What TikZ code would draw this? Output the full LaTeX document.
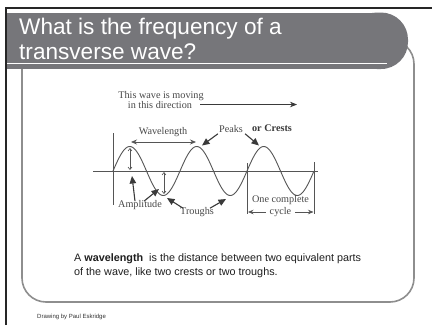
\documentclass[tikz,border=0pt]{standalone}
\usepackage{fontspec}
\setmainfont{Liberation Sans}
\newfontfamily\diagfont{Liberation Serif}
\usetikzlibrary{arrows.meta}
\definecolor{banner}{HTML}{76767A}
\definecolor{boxline}{HTML}{8E8E8E}
\definecolor{wave}{HTML}{555555}
\definecolor{lbl}{HTML}{484848}
\definecolor{ptr}{HTML}{3A3A3A}
\begin{document}
\begin{tikzpicture}[x=1pt,y=-1pt,
  lbltext/.style={inner sep=0pt, font=\diagfont\fontsize{10.2}{12}\selectfont, text=lbl},
  pointer/.style={draw=ptr, line width=1.1pt, -{Triangle[length=7.5pt,width=6.5pt]}},
  dimarrow/.style={draw=wave, line width=0.6pt, {Straight Barb[length=2.5pt,width=4pt]}-{Straight Barb[length=2.5pt,width=4pt]}},
  spanarrow/.style={draw=wave, line width=0.7pt, -{Stealth[length=5.5pt,width=4.5pt]}},
  guide/.style={draw=wave, line width=0.75pt},
  bodytext/.style={inner sep=0pt, anchor=base west, text=black!88, font=\fontsize{10.8}{13}\selectfont}]
\useasboundingbox (0,0) rectangle (432,325);
\fill[white] (0,0) rectangle (432,325);

% outline box
\draw[boxline, line width=1.6pt, rounded corners=24] (22,66) -- (22,302) -- (414,302) -- (414,40) -- (385,40);

% banner
\fill[banner] (7,12.5) rectangle (385,69);
\fill[banner, rounded corners=27] (350,12.5) rectangle (408,69);
\draw[white, line width=1.5pt] (7,63.5) -- (387,63.5);

% frame lines
\draw[black!85, line width=2pt] (6,325) -- (6,7.5) -- (432,7.5);

% title
\node[anchor=base west, inner sep=0pt, text=white, font=\fontsize{22.6}{25}\selectfont] (t1) at (19,34) {What is the frequency of a};
\node[anchor=base west, inner sep=0pt, text=white, font=\fontsize{22.6}{25}\selectfont] (t2) at (19,59) {transverse wave?};

% direction
\node[lbltext, anchor=base] (mv1) at (161,98) {This wave is moving};
\node[lbltext, anchor=base] (mv2) at (160,108) {in this direction};
\coordinate (dirend) at (297,105);
\draw[draw=ptr, line width=0.7pt, -{Stealth[length=7pt,width=5.5pt]}] ([xshift=8pt]mv2.east) -- (mv2.east -| dirend);

% wavelength
\node[lbltext] (wl) at (163,132) {Wavelength};
\coordinate (wlA) at (131,142);
\coordinate (wlB) at (196,142);
\draw[draw=wave, line width=0.8pt, {Stealth[length=6pt,width=5pt]}-{Stealth[length=6pt,width=5pt]}] (wlA) -- (wlB);

% peaks
\node[lbltext] (pk) at (231,129) {Peaks};
\node[lbltext, text=ptr, font=\diagfont\bfseries\fontsize{10.2}{12}\selectfont] (cr) at (272,128) {or Crests};
\coordinate (crest2) at (202,145.5);
\coordinate (crest3) at (259,145.5);
\draw[pointer] ([xshift=-1pt,yshift=-1pt]pk.south west) -- (crest2);
\draw[pointer] ([xshift=2pt,yshift=-1pt]pk.south east) -- (crest3);

% axis, guides, wave
\draw[guide] (93,171) -- (318,171);
\draw[guide] (113,133) -- (113,205);
\draw[guide] (247,163) -- (247,214);
\draw[guide] (314.5,162) -- (314.5,214);
\draw[draw=wave, line width=0.9pt] plot[domain=0:201, samples=160, smooth] ({113+\x}, {171-24.5*sin(5.373134*\x)});

% amplitude
\coordinate (a1t) at (130,148);
\coordinate (a1b) at (130,170);
\coordinate (a2t) at (164,172);
\coordinate (a2b) at (164,194);
\draw[dimarrow] (a1t) -- (a1b);
\draw[dimarrow] (a2t) -- (a2b);
\node[lbltext] (amp) at (140,205) {Amplitude};
\coordinate (ampP1) at (132,176);
\coordinate (ampP2) at (159,189);
\draw[pointer] ([xshift=-5pt,yshift=-1pt]amp.north) -- (ampP1);
\draw[pointer] ([xshift=4pt,yshift=-1pt]amp.north) -- (ampP2);

% troughs
\node[lbltext] (tr) at (197,212) {Troughs};
\coordinate (tr1) at (167,198);
\coordinate (tr2) at (226,199);
\draw[pointer] ([xshift=3pt,yshift=-1pt]tr.north west) -- (tr1);
\draw[pointer] ([xshift=-4pt,yshift=-1pt]tr.north east) -- (tr2);

% one complete cycle
\node[lbltext] (oc) at (280.5,200) {One complete};
\node[lbltext] (cy) at (280.5,212) {cycle};
\coordinate (cyL) at (248,212);
\coordinate (cyR) at (313.5,212);
\draw[spanarrow] ([xshift=-4pt]cy.west) -- (cy.west -| cyL);
\draw[spanarrow] ([xshift=4pt]cy.east) -- (cy.east -| cyR);

% body text
\node[bodytext] (b1) at (74,261) {A \textbf{wavelength}~ is the distance between two equivalent parts};
\node[bodytext] (b2) at (74,275) {of the wave, like two crests or two troughs.};

% footer
\node[anchor=base west, inner sep=0pt, text=black!80, font=\fontsize{6}{7}\selectfont] (ft) at (37,318) {Drawing by Paul Eskridge};
\end{tikzpicture}
\end{document}
